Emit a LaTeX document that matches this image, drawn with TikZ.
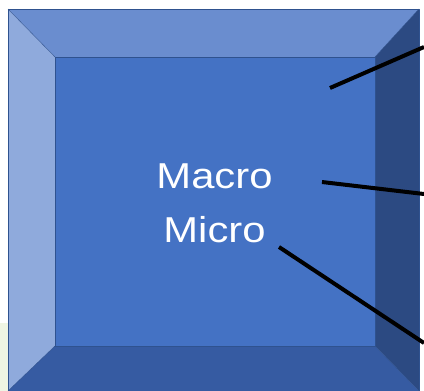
\documentclass[tikz,border=0pt]{standalone}
\usepackage{fontspec}
\newfontfamily\labelfont[FakeStretch=1.16]{Liberation Sans}
\definecolor{face}{RGB}{68,114,196}
\definecolor{bevtop}{RGB}{106,141,207}
\definecolor{bevleft}{RGB}{143,170,220}
\definecolor{bevright}{RGB}{44,74,130}
\definecolor{bevbottom}{RGB}{54,91,162}
\definecolor{bevline}{RGB}{47,82,143}
\definecolor{paleleaf}{RGB}{239,245,227}
\tikzset{
  bevel/.style={draw=bevline, line width=0.7pt},
  pointer/.style={line width=4pt, black},
  word/.style={text=white, font=\labelfont\fontsize{36}{54}\selectfont, anchor=base, inner sep=0pt}
}
\begin{document}
\begin{tikzpicture}[line join=round, x=1pt, y=-1pt]
                \useasboundingbox (0,0) rectangle (424,391);
                \fill[paleleaf] (0,323) rectangle (8,391);
                % outer and inner corners of the bevel
                \coordinate (otl) at (8,9);
                \coordinate (otr) at (419,9);
                \coordinate (obr) at (419,391);
                \coordinate (obl) at (8,391);
                \coordinate (itl) at (55,57);
                \coordinate (itr) at (375,57);
                \coordinate (ibr) at (375,346);
                \coordinate (ibl) at (55,346);
                \fill[bevtop] (otl) -- (otr) -- (itr) -- (itl) -- cycle;
                \fill[bevleft] (otl) -- (itl) -- (ibl) -- (obl) -- cycle;
                \fill[bevright] (otr) -- (obr) -- (ibr) -- (itr) -- cycle;
                \fill[bevbottom] (obl) -- (ibl) -- (ibr) -- (obr) -- cycle;
                \fill[face] (itl) rectangle (ibr);
                \draw[bevel] (otl) -- (otr) -- (obr) -- (obl) -- cycle;
                \draw[bevel, line width=0.4pt] (itl) -- (itr) -- (ibr) -- (ibl) -- cycle;
                \foreach \o/\i in {otl/itl, otr/itr, obr/ibr, obl/ibl}
                    \draw[bevel, line width=0.4pt] (\o) -- (\i);
                \node[word] (macro) at (214.5,188) {Macro};
                \node[word] (micro) at (214.5,242) {Micro};
                % pointer lines running off the right edge
                \coordinate (topstart) at (330,88);
                \coordinate (topend) at (424,47);
                \coordinate (midstart) at (322,182);
                \coordinate (midend) at (424,194);
                \coordinate (lowstart) at (279,247);
                \coordinate (lowend) at (424,343);
                \foreach \p in {top, mid, low}
                    \draw[pointer] (\p start) -- (\p end);
            \end{tikzpicture}
\end{document}
